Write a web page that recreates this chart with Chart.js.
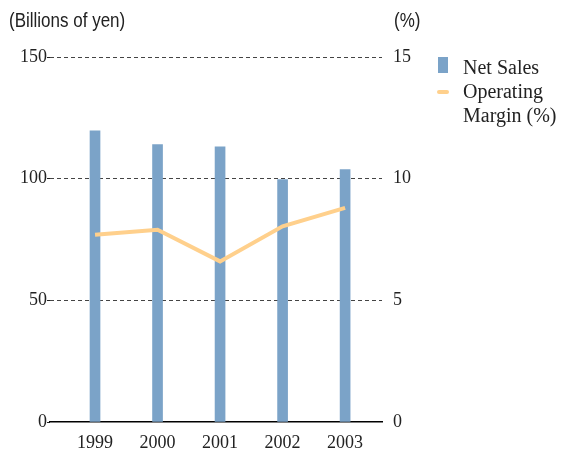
<!DOCTYPE html>
<html>
<head>
<meta charset="utf-8">
<script src="https://cdn.jsdelivr.net/npm/chart.js@4"></script>
<style>
  html, body { margin: 0; padding: 0; background: #fff; }
  .wrap { position: relative; width: 562px; height: 451px; }
  canvas { position: absolute; left: 0; top: 0; }
  .unit { position: absolute; top: 9px; font-family: "Liberation Sans", Arial, sans-serif; font-size: 20px; color: #222; transform: scaleX(0.85); transform-origin: left top; white-space: nowrap; }
  .legend { position: absolute; left: 437px; top: 55px; font-family: "Liberation Serif", serif; font-size: 20px; color: #222; line-height: 24px; }
  .legend div { position: relative; padding-left: 26px; }
  .sw-bar { position: absolute; left: 1px; top: 2px; width: 10px; height: 16px; background: #7ba3c8; }
  .sw-line { position: absolute; left: 0; top: 11px; width: 12px; height: 4px; border-radius: 2px; background: #ffd08c; }
</style>
</head>
<body>
<div class="wrap">
  <canvas id="myChart" width="562" height="451"></canvas>
  <div class="unit" style="left:9px">(Billions of yen)</div>
  <div class="unit" style="left:394px">(%)</div>
  <div class="legend">
    <div><span class="sw-bar"></span>Net Sales</div>
    <div><span class="sw-line"></span>Operating<br>Margin (%)</div>
  </div>
</div>
<script>
const years = [1999, 2000, 2001, 2002, 2003];
const netSales = [119.7, 114, 113.1, 99.6, 103.7];
const operatingMargin = [7.7, 7.9, 6.6, 8.04, 8.8];
const salesTicks = [0, 50, 100, 150];
const marginTicks = [0, 5, 10, 15];

const serif = { family: "Liberation Serif", size: 18 };

new Chart(document.querySelector("#myChart"), {
  type: "bar",
  data: {
    datasets: [
      {
        type: "line",
        label: "Operating Margin (%)",
        data: years.map((y, i) => ({ x: y, y: operatingMargin[i] })),
        yAxisID: "y1",
        borderColor: "#ffd08c",
        borderWidth: 4,
        pointRadius: 0,
        tension: 0,
        order: 0,
      },
      {
        label: "Net Sales",
        data: years.map((y, i) => ({ x: y, y: netSales[i] })),
        yAxisID: "y",
        backgroundColor: "#7ba3c8",
        barThickness: 10,
        order: 1,
      },
    ],
  },
  options: {
    responsive: false,
    animation: false,
    layout: { padding: { top: 57, left: 0, right: 0, bottom: 0 } },
    plugins: { legend: { display: false }, tooltip: { enabled: false } },
    scales: {
      x: {
        type: "linear",
        offset: false,
        min: 1998.28,
        max: 2003.59,
        afterFit: (s) => { s.height = 29; },
        grid: { display: false, drawTicks: false, offset: false },
        border: { display: true, color: "#000", width: 1.5 },
        ticks: {
          stepSize: 1,
          includeBounds: false,
          padding: 10,
          color: "#222",
          font: serif,
          callback: (v) => (years.includes(v) ? String(v) : ""),
        },
      },
      y: {
        position: "left",
        min: 0,
        max: 150,
        afterFit: (s) => { s.width = 50; },
        afterBuildTicks: (s) => { s.ticks = salesTicks.map((v) => ({ value: v })); },
        grid: {
          color: (c) => (c.tick && c.tick.value === 0 ? "rgba(0,0,0,0)" : "#444"),
          lineWidth: 1,
          tickLength: 3,
          tickColor: "#222",
          tickWidth: 1,
        },
        border: { display: false, dash: [4, 3] },
        ticks: { padding: 0, color: "#222", font: serif },
      },
      y1: {
        position: "right",
        min: 0,
        max: 15,
        afterFit: (s) => { s.width = 180; },
        afterBuildTicks: (s) => { s.ticks = marginTicks.map((v) => ({ value: v })); },
        grid: { drawOnChartArea: false, drawTicks: false },
        border: { display: false },
        ticks: { padding: 11, color: "#222", font: serif },
      },
    },
  },
});
</script>
</body>
</html>
